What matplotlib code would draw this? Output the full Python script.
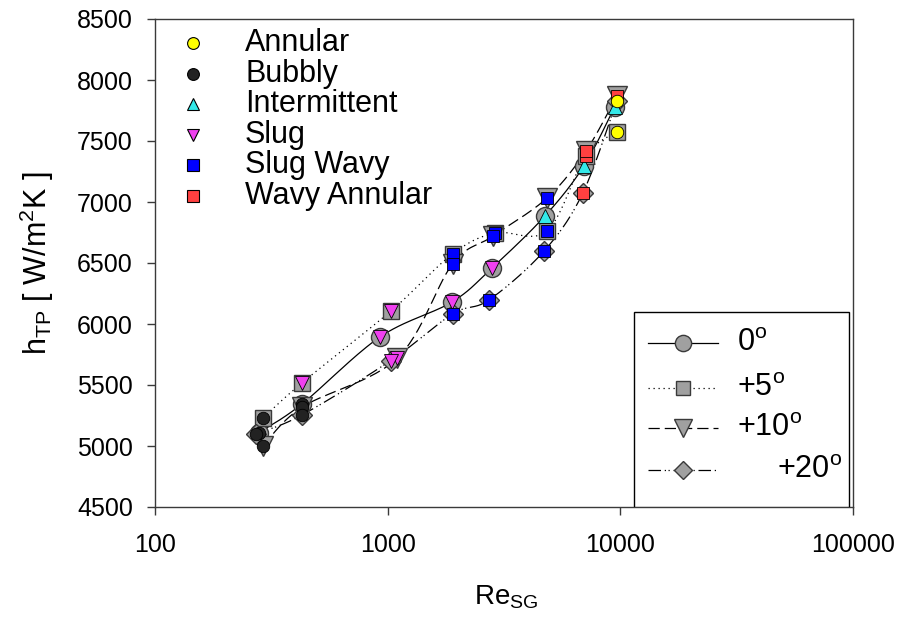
import numpy as np
import matplotlib.pyplot as plt
from matplotlib.lines import Line2D
from matplotlib.patches import Rectangle
from matplotlib.ticker import FixedLocator, FixedFormatter, NullLocator

plt.rcParams['font.family'] = ['Liberation Sans', 'DejaVu Sans']
plt.rcParams['mathtext.default'] = 'regular'

# inclination angles and their data (Re_SG, h_TP, flow regime)
angles = ['0', '+5', '+10', '+20']

re_0 = [280, 428, 927, 1888, 2806, 4740, 6970, 9450]
h_0 = [5110, 5344, 5894, 6180, 6459, 6885, 7295, 7779]
fp_0 = ['Bubbly', 'Bubbly', 'Slug', 'Slug', 'Slug', 'Intermittent', 'Intermittent', 'Intermittent']

re_5 = [291, 430, 1033, 1900, 2892, 4840, 7100, 9660]
h_5 = [5230, 5520, 6107, 6574, 6746, 6763, 7380, 7574]
fp_5 = ['Bubbly', 'Slug', 'Slug', 'Slug Wavy', 'Slug Wavy', 'Slug Wavy', 'Wavy Annular', 'Annular']

re_10 = [291, 430, 1100, 1900, 2830, 4842, 7114, 9660]
h_10 = [5000, 5320, 5720, 6492, 6720, 7033, 7418, 7869]
fp_10 = ['Bubbly', 'Bubbly', 'Slug', 'Slug Wavy', 'Slug Wavy', 'Slug Wavy', 'Wavy Annular', 'Wavy Annular']

re_20 = [272, 428, 1030, 1900, 2725, 4700, 6900, 9660]
h_20 = [5100, 5254, 5700, 6082, 6197, 6598, 7074, 7830]
fp_20 = ['Bubbly', 'Bubbly', 'Slug', 'Slug Wavy', 'Slug Wavy', 'Slug Wavy', 'Wavy Annular', 'Annular']

regimes = ['Annular', 'Bubbly', 'Intermittent', 'Slug', 'Slug Wavy', 'Wavy Annular']
regime_color = ['#ffff00', '#222222', '#33e8e8', '#f040f0', '#0000ff', '#ff4040']
regime_marker = ['o', 'o', '^', 'v', 's', 's']
regime_ms = [9, 9, 9.5, 9.5, 8, 8]

series = [(re_0, h_0, fp_0), (re_5, h_5, fp_5), (re_10, h_10, fp_10), (re_20, h_20, fp_20)]
angle_marker = ['o', 's', 'v', 'D']
angle_ms = [13, 11.5, 14, 10.5]
angle_ls = ['-', (0, (1, 3)), (0, (9, 4)), (0, (10, 3, 1, 2, 1, 3))]


def spline(xs, ys, n=30):
    # Catmull-Rom through the points, in log-x space
    u = np.log10(xs) / 3.0
    v = (np.asarray(ys, float) - 4500) / 4000.0
    P = np.column_stack([u, v])
    P = np.vstack([P[0], P, P[-1]])
    out = []
    t = np.linspace(0, 1, n)[:, None]
    for i in range(1, len(P) - 2):
        p0, p1, p2, p3 = P[i - 1], P[i], P[i + 1], P[i + 2]
        seg = 0.5 * (2 * p1 + (-p0 + p2) * t + (2 * p0 - 5 * p1 + 4 * p2 - p3) * t ** 2
                     + (-p0 + 3 * p1 - 3 * p2 + p3) * t ** 3)
        out.append(seg)
    out = np.vstack(out)
    return 10 ** (out[:, 0] * 3.0), out[:, 1] * 4000 + 4500


fig = plt.figure(figsize=(9.01, 6.19), dpi=100)
ax = fig.add_axes([155 / 901, 1 - 507 / 619, 698 / 901, 488 / 619])

grey = '#a0a0a0'
edge = '#3a3a3a'
for k, (x, y, fp) in enumerate(series):
    sx, sy = spline(x, y)
    ax.plot(sx, sy, color='black', lw=0.9, ls=angle_ls[k], zorder=2)
    ax.plot(x, y, ls='none', marker=angle_marker[k], ms=angle_ms[k], mfc=grey,
            mec=edge, mew=1.0, zorder=3)

for k, (x, y, fp) in enumerate(series):
    for xi, yi, f in zip(x, y, fp):
        j = regimes.index(f)
        ax.plot(xi, yi, ls='none', marker=regime_marker[j], ms=regime_ms[j],
                mfc=regime_color[j], mec='black', mew=0.6, zorder=4)

ax.set_xscale('log')
ax.set_xlim(100, 100000)
ax.set_ylim(4500, 8500)
ax.xaxis.set_major_locator(FixedLocator([100, 1000, 10000, 100000]))
ax.xaxis.set_major_formatter(FixedFormatter(['100', '1000', '10000', '100000']))
ax.xaxis.set_minor_locator(NullLocator())
ax.set_yticks(np.arange(4500, 8501, 500))
ax.tick_params(direction='out', length=6, width=1, labelsize=18, top=False, right=False,
               color=edge)
ax.tick_params(axis='x', pad=13)
ax.tick_params(axis='y', pad=10)
for s in ax.spines.values():
    s.set_linewidth(1.0)
    s.set_color(edge)

ax.set_xlabel('Re$_{SG}$', fontsize=20)
ax.xaxis.set_label_coords(0.503, -0.157)
ax.set_ylabel('h$_{TP}$ [ W/m$^2$K ]', fontsize=22)
ax.yaxis.set_label_coords(-0.142, 0.5)

# flow regime legend, top left
tr = ax.transAxes
row_y1 = [0.950, 0.888, 0.825, 0.763, 0.700, 0.638]
for j, name in enumerate(regimes):
    ax.add_line(Line2D([0.0544], [row_y1[j]], transform=tr, ls='none',
                       marker=regime_marker[j], ms=8.5, mfc=regime_color[j],
                       mec='black', mew=0.8, clip_on=False))
    ax.text(0.129, row_y1[j], name, transform=tr, fontsize=22, va='center', ha='left')

# inclination legend, bottom right
ax.add_patch(Rectangle((0.686, 0.0), 0.308, 0.400, transform=tr, fill=True,
                       facecolor='white', edgecolor='black', lw=1.0, zorder=5))
row_y2 = [0.336, 0.244, 0.162, 0.076]
text_x2 = [0.834, 0.834, 0.834, 0.891]
for k in range(4):
    ax.add_line(Line2D([0.706, 0.807], [row_y2[k]] * 2, transform=tr, color='black',
                       lw=0.9, ls=angle_ls[k], zorder=6))
    ax.add_line(Line2D([0.756], [row_y2[k]], transform=tr, ls='none',
                       marker=angle_marker[k], ms=angle_ms[k] * 0.9, mfc=grey,
                       mec=edge, mew=1.0, zorder=7))
    ax.text(text_x2[k], row_y2[k], angles[k] + '$^o$', transform=tr, fontsize=22,
            va='center', ha='left', zorder=7)

fig.savefig('out.png', dpi=100)
